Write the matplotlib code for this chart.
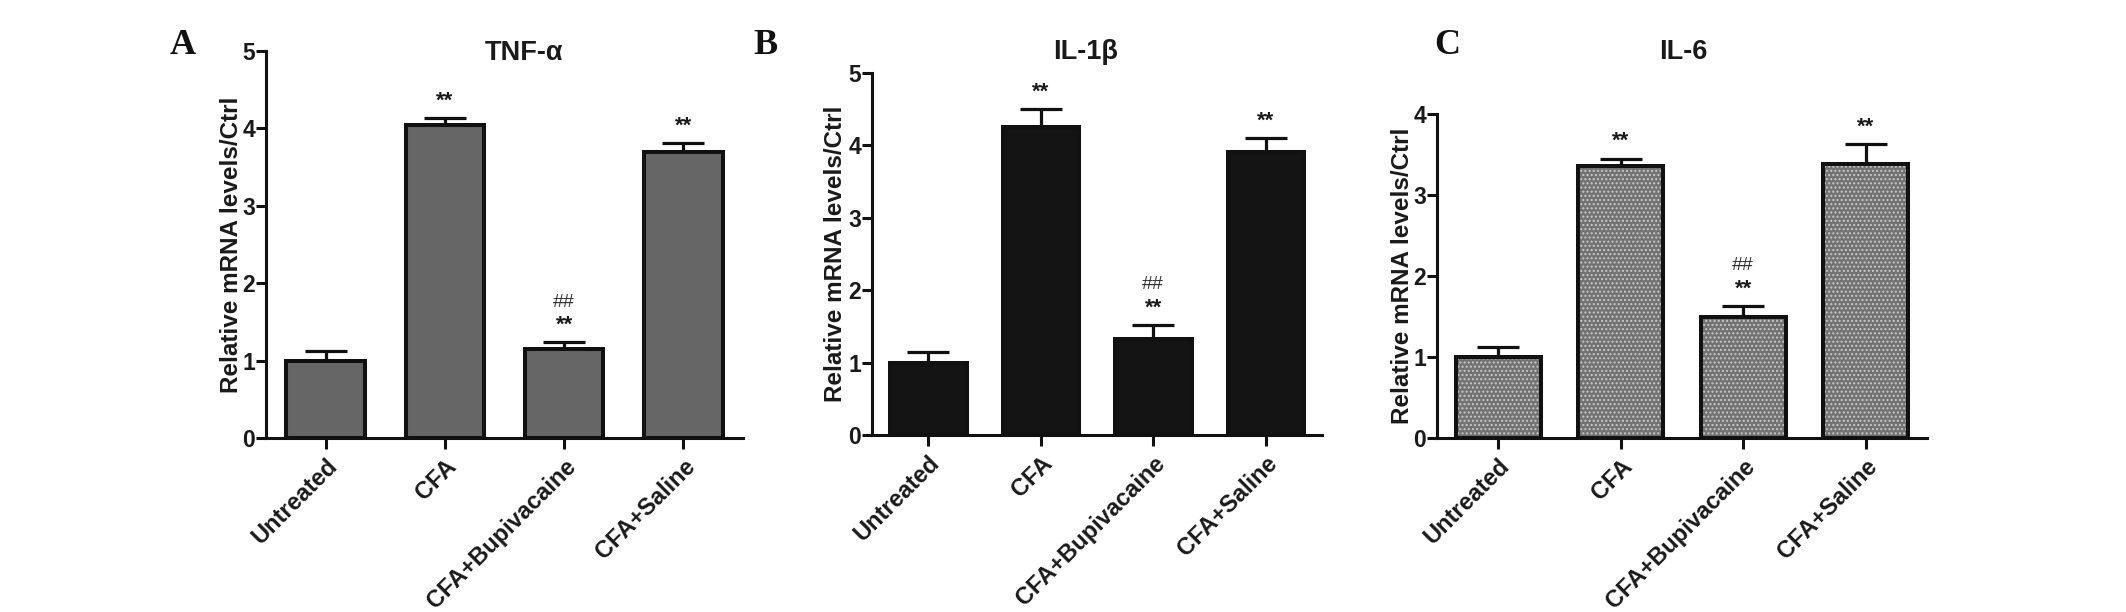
import matplotlib
matplotlib.use("Agg")
import matplotlib.pyplot as plt
import numpy as np

categories = ['Untreated', 'CFA', 'CFA+Bupivacaine', 'CFA+Saline']

tnf_mean = [1.00, 4.05, 1.15, 3.70]
tnf_err = [0.13, 0.08, 0.09, 0.11]
il1b_mean = [1.00, 4.25, 1.32, 3.90]
il1b_err = [0.15, 0.25, 0.20, 0.20]
il6_mean = [1.00, 3.36, 1.49, 3.38]
il6_err = [0.12, 0.09, 0.14, 0.25]

titles = ['TNF-α', 'IL-1β', 'IL-6']
letters = ['A', 'B', 'C']
ylims = [5, 5, 4]
ylabel = 'Relative mRNA levels/Ctrl'
marks_top = ['', '**', '**', '**']
marks_hash = ['', '', '##', '']

W, H = 2126, 612
DPI = 100
plt.rcParams['font.family'] = ['Liberation Sans', 'DejaVu Sans']
plt.rcParams['hatch.linewidth'] = 1.0

fig = plt.figure(figsize=(W / DPI, H / DPI), dpi=DPI)

# axes boxes in pixels: left, right, baseline, top
boxes = [(266, 743, 438, 51), (872, 1322, 435, 72.7), (1437, 1927, 438, 114)]
label_x = [-0.049, -0.055, -0.047]
title_pos = [(524, 53), (1086, 52), (1683, 52)]
letter_pos = [(183, 45), (766, 45), (1447, 45)]
bar_widths = [0.66, 0.68, 0.69]

means = [tnf_mean, il1b_mean, il6_mean]
errs = [tnf_err, il1b_err, il6_err]
txt = '#1a1a1a'

for i in range(3):
    l, r, b, t = boxes[i]
    ax = fig.add_axes([l / W, 1 - b / H, (r - l) / W, (b - t) / H])
    x = np.arange(len(categories))
    bw = bar_widths[i]
    if i == 0:
        ax.bar(x, means[i], width=bw, color='#666666', edgecolor='#111111',
               linewidth=2.9, zorder=2)
    elif i == 1:
        ax.bar(x, means[i], width=bw, color='#141414', edgecolor='#111111',
               linewidth=2.9, zorder=2)
    else:
        ax.bar(x, means[i], width=bw, color='#727272', edgecolor='#c8c8c8',
               linewidth=0, hatch='....', zorder=2)
        ax.bar(x, means[i], width=bw, fill=False, edgecolor='#111111',
               linewidth=2.9, zorder=3)
    lower = np.zeros(len(categories))
    ax.errorbar(x, means[i], yerr=[lower, errs[i]], fmt='none', ecolor='#111111',
                elinewidth=2.3, capsize=15, capthick=2.3, zorder=1)
    for j in range(len(categories)):
        top = means[i][j] + errs[i][j]
        if marks_top[j]:
            ax.annotate(marks_top[j], (x[j], top), xytext=(0, 17),
                        textcoords='offset pixels', ha='center', va='center',
                        fontsize=16, fontweight='bold', color=txt)
        if marks_hash[j]:
            ax.annotate(marks_hash[j], (x[j], top), xytext=(0, 40),
                        textcoords='offset pixels', ha='center', va='center',
                        fontsize=14, color='#333333')
    ax.set_xlim(-0.5, 3.5)
    ax.set_ylim(0, ylims[i])
    ax.set_yticks(range(0, ylims[i] + 1))
    ax.set_xticks(x)
    ax.set_xticklabels(categories, rotation=45, ha='right', va='top',
                       rotation_mode='anchor', fontsize=17, fontweight='bold',
                       color=txt)
    for lab in ax.get_yticklabels():
        lab.set_fontsize(16.5)
        lab.set_fontweight('bold')
        lab.set_color(txt)
    ax.spines['top'].set_visible(False)
    ax.spines['right'].set_visible(False)
    for s in ['left', 'bottom']:
        ax.spines[s].set_linewidth(2.2)
        ax.spines[s].set_color('#111111')
    ax.tick_params(axis='y', direction='out', length=7, width=2.2, pad=1,
                   color='#111111')
    ax.tick_params(axis='x', direction='out', length=8, width=2.2, pad=4,
                   color='#111111')
    ax.set_ylabel(ylabel, fontsize=17.5, fontweight='bold', color=txt)
    ax.yaxis.set_label_coords(label_x[i], 0.5)
    tx, ty = title_pos[i]
    fig.text(tx / W, 1 - ty / H, titles[i], ha='center', va='center',
             fontsize=19.5, fontweight='bold', color=txt)
    lx, ly = letter_pos[i]
    fig.text(lx / W, 1 - ly / H, letters[i], ha='center', va='center',
             fontsize=26, fontweight='bold', family=['Liberation Serif', 'DejaVu Serif'],
             color='#111111')

fig.savefig('out.png', dpi=DPI, facecolor='white')
